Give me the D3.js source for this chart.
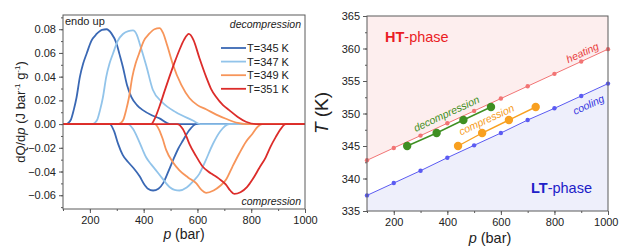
<!DOCTYPE html>
<html>
<head>
<meta charset="utf-8">
<script src="https://cdn.jsdelivr.net/npm/d3@7"></script>
<style>
  body { margin: 0; background: #fff; }
  svg { font-family: 'Liberation Sans', Arial, sans-serif; }
</style>
</head>
<body>
<svg id="chart" width="619" height="249"></svg>
<script>
// ---- left panel data: dQ/dp vs p, [p, value] pairs ----
const decomp345 = [[100, 0], [110, 0], [120, 0.001], [130, 0.004], [140, 0.012], [150, 0.022], [163, 0.040],
  [175, 0.051], [188, 0.0595], [205, 0.070], [225, 0.076], [245, 0.0795], [262, 0.080], [280, 0.0765],
  [299, 0.068], [310, 0.059], [323, 0.048], [338, 0.033], [354, 0.023], [375, 0.016], [397, 0.0118],
  [430, 0.0075], [459, 0.0048], [500, 0], [1000, 0]];
const decomp347 = [[100, 0], [208, 0], [218, 0.001], [228, 0.004], [238, 0.012], [248, 0.022], [261, 0.040],
  [273, 0.051], [286, 0.0595], [303, 0.070], [323, 0.076], [343, 0.0785], [360, 0.079], [375, 0.075],
  [385, 0.068], [410, 0.049], [434, 0.029], [471, 0.018], [520, 0.010], [583, 0.003], [610, 0], [1000, 0]];
const decomp349 = [[100, 0], [302, 0], [315, 0.001], [325, 0.004], [335, 0.012], [345, 0.022], [358, 0.040],
  [370, 0.051], [383, 0.0595], [400, 0.070], [420, 0.076], [440, 0.080], [459, 0.081], [472, 0.077],
  [488, 0.066], [509, 0.050], [540, 0.033], [570, 0.022], [600, 0.016], [632, 0.0125], [670, 0.008],
  [706, 0.0045], [750, 0.001], [780, 0], [1000, 0]];
const decomp351 = [[100, 0], [428, 0], [440, 0.004], [459, 0.015], [478, 0.028], [496, 0.040], [515, 0.052],
  [533, 0.0625], [550, 0.071], [568, 0.076], [585, 0.071], [607, 0.056], [632, 0.040], [650, 0.030],
  [669, 0.023], [695, 0.016], [718, 0.0118], [750, 0.006], [780, 0.002], [818, 0], [1000, 0]];

const comp345 = [[100, 0], [274, 0], [290, -0.006], [305, -0.0167], [322, -0.026], [342, -0.032],
  [362, -0.037], [385, -0.044], [400, -0.050], [416, -0.0545], [435, -0.056], [455, -0.0545], [472, -0.050],
  [490, -0.041], [509, -0.0306], [528, -0.021], [546, -0.0139], [570, -0.005], [596, 0], [1000, 0]];
const comp347 = [[100, 0], [342, 0], [360, -0.004], [378, -0.012], [395, -0.021], [409, -0.028],
  [428, -0.034], [446, -0.039], [470, -0.046], [496, -0.053], [515, -0.0555], [533, -0.056], [560, -0.0535],
  [585, -0.048], [607, -0.042], [630, -0.031], [657, -0.017], [685, -0.006], [718, 0], [1000, 0]];
const comp349 = [[100, 0], [441, 0], [458, -0.005], [470, -0.012], [484, -0.022], [508, -0.032],
  [533, -0.039], [565, -0.045], [596, -0.050], [615, -0.0555], [632, -0.058], [660, -0.056], [685, -0.052],
  [706, -0.047], [730, -0.036], [755, -0.025], [780, -0.015], [804, -0.0083], [825, -0.002], [841, 0], [1000, 0]];
const comp351 = [[100, 0], [525, 0], [545, -0.004], [558, -0.010], [570, -0.0167], [595, -0.027],
  [620, -0.036], [640, -0.040], [657, -0.0425], [680, -0.046], [706, -0.051], [722, -0.056], [737, -0.0589],
  [760, -0.0575], [785, -0.053], [804, -0.047], [830, -0.037], [854, -0.028], [872, -0.019], [891, -0.011],
  [910, -0.004], [928, 0], [1000, 0]];

const seriesNames = ['T=345 K', 'T=347 K', 'T=349 K', 'T=351 K'];
const seriesColors = ['#3a68b4', '#92c4ea', '#f7955a', '#dc2c2a'];
const decompSeries = [decomp345, decomp347, decomp349, decomp351];
const compSeries = [comp345, comp347, comp349, comp351];
const leftYTicks = [-0.06, -0.04, -0.02, 0, 0.02, 0.04, 0.06, 0.08];
const pTicks = [200, 400, 600, 800, 1000];

// ---- right panel data: phase diagram ----
const boundaryP = [100, 200, 300, 400, 500, 600, 700, 800, 900, 1000];
const heatingT = [342.8, 344.7, 346.6, 348.5, 350.4, 352.3, 354.2, 356.1, 358.0, 359.9];
const coolingT = [337.4, 339.3, 341.2, 343.2, 345.1, 347.0, 349.0, 350.8, 352.7, 354.6];
const decompP = [250, 360, 460, 563];
const decompT = [345, 347, 349, 351];
const compP = [440, 530, 630, 730];
const compT = [345, 347, 349, 351];
const rightYTicks = [335, 340, 345, 350, 355, 360, 365];

const svg = d3.select('#chart');
const frameColor = '#5a5a5a';
const tickFont = 11;

const styleAxis = g => {
  g.select('.domain').remove();
  g.selectAll('line').attr('stroke', frameColor);
  g.selectAll('text').attr('font-size', tickFont).attr('fill', '#222')
    .attr('font-family', 'Liberation Sans, Arial');
};

// ================= LEFT PANEL =================
const xL = d3.scaleLinear().domain([100, 1000]).range([63, 305]);
const yL = d3.scaleLinear().domain([-0.0716, 0.092]).range([209, 15]);

const left = svg.append('g');

// minor ticks
left.append('g')
  .attr('transform', 'translate(0,209)')
  .call(d3.axisBottom(xL).tickValues(d3.range(100, 1001, 100)).tickSize(2).tickFormat(''))
  .call(styleAxis);
left.append('g')
  .attr('transform', 'translate(63,0)')
  .call(d3.axisLeft(yL).tickValues(d3.range(-0.07, 0.0901, 0.01)).tickSize(2).tickFormat(''))
  .call(styleAxis);

left.append('g')
  .attr('transform', 'translate(0,209)')
  .call(d3.axisBottom(xL).tickValues(pTicks).tickSize(4).tickPadding(3).tickFormat(d3.format('d')))
  .call(styleAxis);
left.append('g')
  .attr('transform', 'translate(63,0)')
  .call(d3.axisLeft(yL).tickValues(leftYTicks).tickSize(4).tickPadding(3).tickFormat(d3.format('.2f')))
  .call(styleAxis);

const lineL = d3.line()
  .x(d => xL(d[0]))
  .y(d => yL(d[1]))
  .curve(d3.curveMonotoneX);

svg.append('clipPath').attr('id', 'clipL')
  .append('rect').attr('x', 63).attr('y', 15).attr('width', 242).attr('height', 194);

const curves = left.append('g').attr('clip-path', 'url(#clipL)');
decompSeries.forEach((s, i) => {
  curves.append('path')
    .datum(s)
    .attr('d', lineL)
    .attr('fill', 'none')
    .attr('stroke', seriesColors[i])
    .attr('stroke-width', 1.8);
  curves.append('path')
    .datum(compSeries[i])
    .attr('d', lineL)
    .attr('fill', 'none')
    .attr('stroke', seriesColors[i])
    .attr('stroke-width', 1.8);
});

left.append('rect')
  .attr('x', 63).attr('y', 15).attr('width', 242).attr('height', 194)
  .attr('fill', 'none').attr('stroke', frameColor).attr('stroke-width', 1);

// legend
const legend = left.append('g');
seriesNames.forEach((name, i) => {
  const y = 48 + i * 13.6;
  legend.append('line')
    .attr('x1', 221).attr('x2', 246).attr('y1', y).attr('y2', y)
    .attr('stroke', seriesColors[i]).attr('stroke-width', 1.8);
  legend.append('text')
    .attr('x', 247).attr('y', y + 4)
    .attr('font-size', 11).attr('fill', '#222')
    .text(name);
});

left.append('text').attr('x', 65).attr('y', 25).attr('font-size', 11).attr('fill', '#222').text('endo up');
left.append('text').attr('x', 301).attr('y', 28).attr('text-anchor', 'end')
  .attr('font-size', 10.5).attr('font-style', 'italic').attr('fill', '#222').text('decompression');
left.append('text').attr('x', 301).attr('y', 205).attr('text-anchor', 'end')
  .attr('font-size', 10.5).attr('font-style', 'italic').attr('fill', '#222').text('compression');

// axis titles
const xtL = left.append('text').attr('x', 184).attr('y', 239).attr('text-anchor', 'middle')
  .attr('font-size', 14).attr('fill', '#222');
xtL.append('tspan').attr('font-style', 'italic').text('p');
xtL.append('tspan').text(' (bar)');

const ytL = left.append('text')
  .attr('transform', 'translate(25,112) rotate(-90)')
  .attr('text-anchor', 'middle').attr('font-size', 13).attr('fill', '#222');
ytL.append('tspan').text('dQ/d');
ytL.append('tspan').attr('font-style', 'italic').text('p');
ytL.append('tspan').text(' (J bar');
ytL.append('tspan').attr('font-size', 8).attr('dy', -5).text('-1');
ytL.append('tspan').attr('dy', 5).text(' g');
ytL.append('tspan').attr('font-size', 8).attr('dy', -5).text('-1');
ytL.append('tspan').attr('dy', 5).text(')');

// ================= RIGHT PANEL =================
const xR = d3.scaleLinear().domain([100, 1000]).range([367, 608]);
const yR = d3.scaleLinear().domain([335, 365]).range([211, 16]);

const right = svg.append('g');
const heatPts = boundaryP.map((p, i) => [p, heatingT[i]]);
const coolPts = boundaryP.map((p, i) => [p, coolingT[i]]);

right.append('path')
  .datum(heatPts)
  .attr('d', d3.area().x(d => xR(d[0])).y0(yR(365)).y1(d => yR(d[1])))
  .attr('fill', '#fdeeee');
right.append('path')
  .datum(coolPts)
  .attr('d', d3.area().x(d => xR(d[0])).y0(yR(335)).y1(d => yR(d[1])))
  .attr('fill', '#eeeffb');

right.append('g')
  .attr('transform', 'translate(0,211)')
  .call(d3.axisBottom(xR).tickValues(d3.range(100, 1001, 100)).tickSize(2).tickFormat(''))
  .call(styleAxis);
right.append('g')
  .attr('transform', 'translate(367,0)')
  .call(d3.axisLeft(yR).tickValues(d3.range(335, 365.1, 2.5)).tickSize(2).tickFormat(''))
  .call(styleAxis);
right.append('g')
  .attr('transform', 'translate(0,211)')
  .call(d3.axisBottom(xR).tickValues(pTicks).tickSize(4).tickPadding(3).tickFormat(d3.format('d')))
  .call(styleAxis)
  // keep the last label inside the window edge
  .call(g => g.selectAll('.tick text').filter(d => d === 1000).attr('text-anchor', 'end').attr('x', 10));
right.append('g')
  .attr('transform', 'translate(367,0)')
  .call(d3.axisLeft(yR).tickValues(rightYTicks).tickSize(4).tickPadding(3))
  .call(styleAxis);

const lineR = d3.line().x(d => xR(d[0])).y(d => yR(d[1]));

const drawSeries = (pts, color, width, r) => {
  right.append('path').datum(pts).attr('d', lineR)
    .attr('fill', 'none').attr('stroke', color).attr('stroke-width', width);
  right.selectAll(null).data(pts).enter().append('circle')
    .attr('cx', d => xR(d[0])).attr('cy', d => yR(d[1])).attr('r', r)
    .attr('fill', color);
};

drawSeries(heatPts, '#f27474', 1, 2.2);
drawSeries(coolPts, '#5b5bf2', 1, 2.2);
drawSeries(decompP.map((p, i) => [p, decompT[i]]), '#3f8f22', 1.4, 4.2);
drawSeries(compP.map((p, i) => [p, compT[i]]), '#f8a020', 1.4, 4.2);

right.append('rect')
  .attr('x', 367).attr('y', 16).attr('width', 241).attr('height', 195)
  .attr('fill', 'none').attr('stroke', frameColor).attr('stroke-width', 1);

// slope angle of the boundary lines in screen space
const angle = Math.atan2(yR(heatingT[9]) - yR(heatingT[0]), xR(1000) - xR(100)) * 180 / Math.PI;
const slopeLabel = (x, y, txt, color) => right.append('text')
  .attr('transform', `translate(${x},${y}) rotate(${angle})`)
  .attr('text-anchor', 'middle').attr('font-size', 10.5).attr('font-style', 'italic')
  .attr('fill', color).text(txt);
slopeLabel(584, 56, 'heating', '#e83c3c');
slopeLabel(590, 108, 'cooling', '#3434e0');
slopeLabel(448, 117, 'decompression', '#3f8f22');
slopeLabel(488, 123, 'compression', '#f59b1c');

const ht = right.append('text').attr('x', 385).attr('y', 42).attr('font-size', 14.5).attr('fill', '#ea1c24');
ht.append('tspan').attr('font-weight', 'bold').text('HT');
ht.append('tspan').text('-phase');
const lt = right.append('text').attr('x', 531).attr('y', 193).attr('font-size', 14.5).attr('fill', '#2020c8');
lt.append('tspan').attr('font-weight', 'bold').text('LT');
lt.append('tspan').text('-phase');

const xtR = right.append('text').attr('x', 490).attr('y', 243).attr('text-anchor', 'middle')
  .attr('font-size', 14.5).attr('fill', '#222');
xtR.append('tspan').attr('font-style', 'italic').text('p');
xtR.append('tspan').text(' (bar)');

const ytR = right.append('text')
  .attr('transform', 'translate(328,113) rotate(-90)')
  .attr('text-anchor', 'middle').attr('font-size', 19).attr('fill', '#222');
ytR.append('tspan').attr('font-style', 'italic').text('T');
ytR.append('tspan').text(' (K)');
</script>
</body>
</html>
